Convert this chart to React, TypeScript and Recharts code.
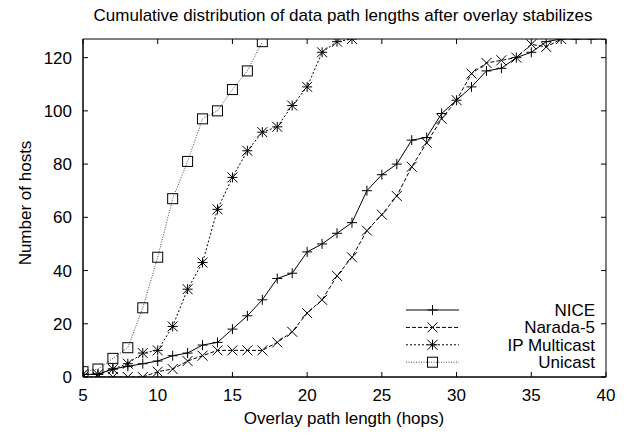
import React from "react";
import { LineChart, Line, XAxis, YAxis, ReferenceArea } from "recharts";

// path length in hops (x)
const hops = [
  5, 6, 7, 8, 9, 10, 11, 12, 13, 14, 15, 16, 17, 18, 19, 20, 21, 22, 23, 24,
  25, 26, 27, 28, 29, 30, 31, 32, 33, 34, 35, 36, 37, 38, 39, 40,
];

// number of hosts, starting at 5 hops
const nice = [
  1, 1, 3, 4, 5, 6, 8, 9, 12, 13, 18, 23, 29, 37, 39, 47, 50, 54, 58, 70, 76,
  80, 89, 90, 99, 104, 109, 115, 116, 120, 122, 126, 127, 127, 127, 127,
];
const narada = [
  0, 0, 0, 0, 0, 2, 3, 6, 8, 10, 10, 10, 10, 13, 17, 24, 29, 38, 45, 55, 61,
  68, 79, 88, 97, 104, 114, 118, 119, 120, 125, 124, 127,
];
const ipMulticast = [
  1, 1, 3, 5, 9, 10, 19, 33, 43, 63, 75, 85, 92, 94, 102, 109, 122, 126, 127,
];
const unicast = [2, 3, 7, 11, 26, 45, 67, 81, 97, 100, 108, 115, 126];

const xTicks = [5, 10, 15, 20, 25, 30, 35, 40];
const yTicks = [0, 20, 40, 60, 80, 100, 120];

const W = 627;
const H = 435;
const MARGIN = { top: 39, right: 21, bottom: 18, left: 23 };
const Y_AXIS_W = 60;
const X_AXIS_H = 40;
const PLOT_LEFT = MARGIN.left + Y_AXIS_W;
const PLOT_RIGHT = W - MARGIN.right;
const PLOT_TOP = MARGIN.top;
const PLOT_BOTTOM = H - MARGIN.bottom - X_AXIS_H;
const TICK = 5;
const FONT = '"Liberation Sans", Arial, Helvetica, sans-serif';

const rows = hops.map((h, i) => ({
  hops: h,
  nice: nice[i],
  narada: narada[i],
  ip: ipMulticast[i],
  unicast: unicast[i],
}));

type Mark = "plus" | "cross" | "star" | "square";

function Marker({ kind, cx, cy }: { kind: Mark; cx: number; cy: number }) {
  const r = 5;
  const plus = `M${cx - r},${cy}h${2 * r}M${cx},${cy - r}v${2 * r}`;
  const cross = `M${cx - r},${cy - r}l${2 * r},${2 * r}M${cx - r},${cy + r}l${2 * r},${-2 * r}`;
  if (kind === "square")
    return (
      <rect x={cx - r} y={cy - r} width={2 * r} height={2 * r} fill="none" stroke="#000" strokeWidth={1} />
    );
  const d = kind === "plus" ? plus : kind === "cross" ? cross : plus + cross;
  return <path d={d} stroke="#000" strokeWidth={1} fill="none" />;
}

const dotFor = (kind: Mark) => (p: any) => {
  if (p.cx == null || p.cy == null || p.value == null) return <g key={p.key} />;
  return (
    <g key={p.key}>
      <Marker kind={kind} cx={p.cx} cy={p.cy} />
    </g>
  );
};

const XTick = (p: any) => {
  const x = p.x;
  return (
    <g>
      <line x1={x} x2={x} y1={PLOT_BOTTOM} y2={PLOT_BOTTOM - TICK} stroke="#000" />
      <line x1={x} x2={x} y1={PLOT_TOP} y2={PLOT_TOP + TICK} stroke="#000" />
      <text x={x} y={PLOT_BOTTOM + 24} textAnchor="middle" fontSize={17} fontFamily={FONT} fill="#000">
        {p.payload.value}
      </text>
    </g>
  );
};

const YTick = (p: any) => {
  const y = p.y;
  return (
    <g>
      <line x1={PLOT_LEFT} x2={PLOT_LEFT + TICK} y1={y} y2={y} stroke="#000" />
      <line x1={PLOT_RIGHT} x2={PLOT_RIGHT - TICK} y1={y} y2={y} stroke="#000" />
      <text x={PLOT_LEFT - 11} y={y + 6} textAnchor="end" fontSize={17} fontFamily={FONT} fill="#000">
        {p.payload.value}
      </text>
    </g>
  );
};

const legendItems: { name: string; kind: Mark; dash?: string; color: string }[] = [
  { name: "NICE", kind: "plus", color: "#000" },
  { name: "Narada-5", kind: "cross", dash: "4 2", color: "#000" },
  { name: "IP Multicast", kind: "star", dash: "2 2", color: "#000" },
  { name: "Unicast", kind: "square", dash: "1 1.5", color: "#444" },
];

export default function App() {
  return (
    <div style={{ position: "absolute", left: 0, top: 0, width: W, height: H, background: "#fff" }}>
      <LineChart width={W} height={H} data={rows} margin={MARGIN}>
        <XAxis
          dataKey="hops"
          type="number"
          domain={[5, 40]}
          ticks={xTicks}
          height={X_AXIS_H}
          axisLine={{ stroke: "#000" }}
          tickLine={false}
          tick={<XTick />}
          allowDataOverflow
        />
        <YAxis
          type="number"
          domain={[0, 127]}
          ticks={yTicks}
          width={Y_AXIS_W}
          axisLine={{ stroke: "#000" }}
          tickLine={false}
          tick={<YTick />}
          allowDataOverflow
        />
        <ReferenceArea x1={5} x2={40} y1={0} y2={127} fill="none" stroke="#000" strokeWidth={1} ifOverflow="visible" />
        <Line dataKey="nice" stroke="#000" strokeWidth={1} dot={dotFor("plus")} isAnimationActive={false} />
        <Line dataKey="narada" stroke="#000" strokeWidth={1} strokeDasharray="4 2" dot={dotFor("cross")} isAnimationActive={false} />
        <Line dataKey="ip" stroke="#000" strokeWidth={1} strokeDasharray="2 2" dot={dotFor("star")} isAnimationActive={false} />
        <Line dataKey="unicast" stroke="#444" strokeWidth={1} strokeDasharray="1 1.5" dot={dotFor("square")} isAnimationActive={false} />
      </LineChart>
      <svg width={W} height={H} style={{ position: "absolute", left: 0, top: 0, pointerEvents: "none" }}>
        <text x={343} y={21} textAnchor="middle" fontSize={17} fontFamily={FONT} fill="#000">
          Cumulative distribution of data path lengths after overlay stabilizes
        </text>
        <text x={344} y={424} textAnchor="middle" fontSize={17} fontFamily={FONT} fill="#000">
          Overlay path length (hops)
        </text>
        <text x={31} y={203} textAnchor="middle" fontSize={17} fontFamily={FONT} fill="#000" transform="rotate(-90 31 203)">
          Number of hosts
        </text>
        {legendItems.map((it, i) => {
          const cy = 310 + i * 17.4;
          return (
            <g key={it.name}>
              <line x1={406} x2={459} y1={cy} y2={cy} stroke={it.color} strokeDasharray={it.dash} />
              <Marker kind={it.kind} cx={432.5} cy={cy} />
              <text x={595} y={cy + 6} textAnchor="end" fontSize={17} fontFamily={FONT} fill="#000">
                {it.name}
              </text>
            </g>
          );
        })}
      </svg>
    </div>
  );
}
